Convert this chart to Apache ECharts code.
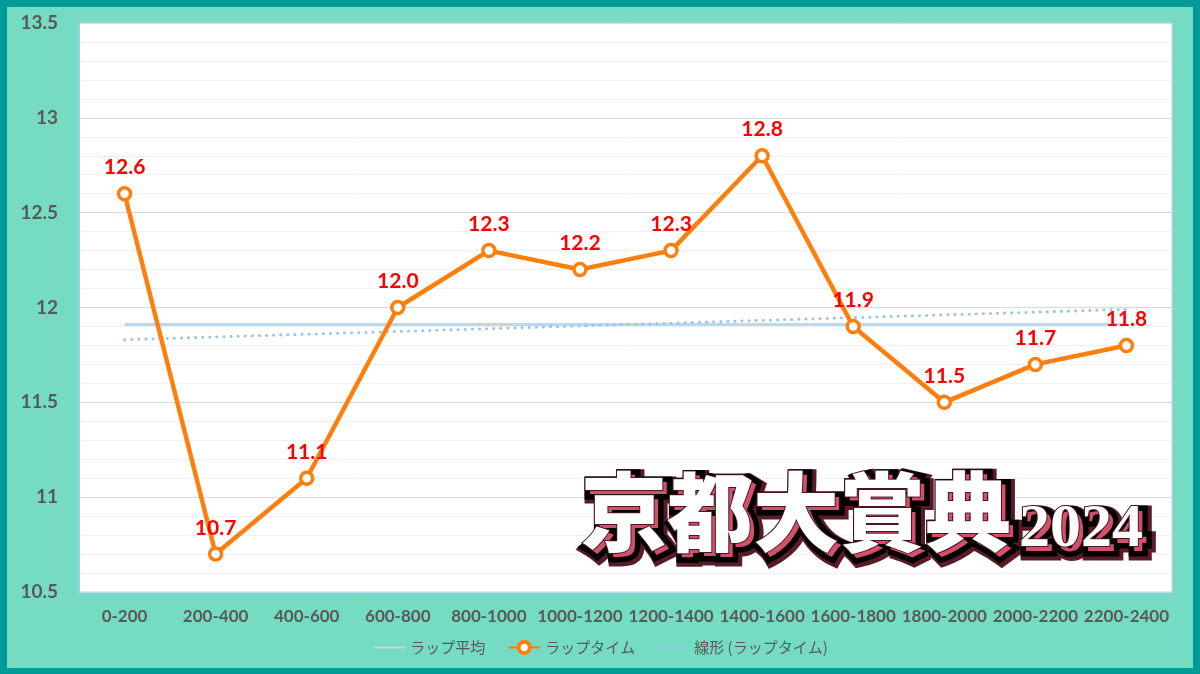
<!DOCTYPE html>
<html><head><meta charset="utf-8">
<script src="https://cdn.jsdelivr.net/npm/echarts@6/dist/echarts.min.js"></script>
<style>html,body{margin:0;padding:0;}#c{width:1200px;height:674px;}</style>
</head><body><div id="c"></div>
<script>
const categories = ['0-200','200-400','400-600','600-800','800-1000','1000-1200','1200-1400','1400-1600','1600-1800','1800-2000','2000-2200','2200-2400'];
const lapTimes = [12.6,10.7,11.1,12.0,12.3,12.2,12.3,12.8,11.9,11.5,11.7,11.8];
const lapAverage = 11.91;
const trendStart = 11.83;
const trendEnd = 11.99;
const yTicks = {min:10.5, max:13.5, interval:0.5};
const titleMain = '京都大賞典';
const titleYear = '2024';

const chart = echarts.init(document.getElementById('c'));
const jp = '"Noto Sans CJK JP", sans-serif';
const lat = 'Lato, "Open Sans", sans-serif';
const last = categories.length - 1;

function titleLayers(text, x, y, size, family, weight) {
  const base = {type:'text', left:x, top:y, z:100, silent:true};
  const font = weight+' '+size+'px '+family;
  return [
    Object.assign({}, base, {style:{text, font, fill:'#5a1a26', stroke:'#5a1a26', lineWidth:15, lineJoin:'round', shadowBlur:5, shadowColor:'rgba(0,0,0,0.4)', shadowOffsetX:2, shadowOffsetY:3}}),
    Object.assign({}, base, {style:{text, font, fill:'#d4506a', stroke:new echarts.graphic.LinearGradient(0,0,0,1,[{offset:0,color:'#c23a5a'},{offset:1,color:'#f28a80'}]), lineWidth:11, lineJoin:'round'}}),
    Object.assign({}, base, {style:{text, font, fill:'#ffffff', stroke:'#4a1620', lineWidth:2, lineJoin:'round'}})
  ];
}

let dotsPath = 'path://M0,0 M32,14';
[3,9.5,16,22.5,29].forEach(x => {
  dotsPath += ' M' + (x-1.6) + ',7 a1.6,1.6 0 1,0 3.2,0 a1.6,1.6 0 1,0 -3.2,0';
});

const option = {
  backgroundColor:'#009a96',
  graphic:[
    {type:'rect', left:7, top:7, z:-10, shape:{width:1186, height:661}, style:{fill:'#76dbc3'}, silent:true},
    ...titleLayers(titleMain, 580, 468, 86, jp, '900'),
    ...titleLayers(titleYear, 1018, 498, 62, '"Liberation Serif", serif', 'bold')
  ],
  grid:{left:79, right:28, top:23, bottom:82, show:true, backgroundColor:'#ffffff', borderColor:'#bdd7ee', borderWidth:1},
  legend:{
    bottom:14, left:'center', itemGap:22, itemWidth:32, itemHeight:14,
    textStyle:{color:'#595959', fontSize:15, fontFamily:jp},
    data:[
      {name:'ラップ平均', itemStyle:{opacity:0}},
      {name:'ラップタイム', itemStyle:{borderWidth:4}},
      {name:'線形 (ラップタイム)', icon:dotsPath, itemStyle:{color:'#9dc3e6', opacity:1, borderWidth:0}}
    ]
  },
  xAxis:{
    type:'category', data:categories, boundaryGap:true,
    axisLine:{show:true, lineStyle:{color:'#bdd7ee'}},
    axisTick:{show:false},
    axisLabel:{color:'#595959', fontSize:17, fontWeight:'bold', fontFamily:lat, margin:16, interval:0}
  },
  yAxis:{
    type:'value', min:yTicks.min, max:yTicks.max, interval:yTicks.interval,
    axisLine:{show:true, lineStyle:{color:'#9dc3e6'}},
    axisTick:{show:false},
    axisLabel:{color:'#595959', fontSize:19, fontWeight:'bold', fontFamily:lat, margin:21,
      formatter:v=>String(Math.round(v*10)/10)},
    splitLine:{lineStyle:{color:'#d9d9d9', width:1}},
    minorTick:{show:false, splitNumber:5},
    minorSplitLine:{show:true, lineStyle:{color:'#f0f0f0', width:1}}
  },
  series:[
    {name:'ラップ平均', type:'line', data:[[0,lapAverage],[last,lapAverage]], showSymbol:false, symbol:'none',
     lineStyle:{color:'#bdd7ee', width:3}, itemStyle:{color:'#bdd7ee'}, z:2, silent:true},
    {name:'ラップタイム', type:'line', data:lapTimes, symbol:'circle', symbolSize:12, showAllSymbol:true,
     lineStyle:{color:'#ff7f0e', width:4.5}, itemStyle:{color:'#ffffff', borderColor:'#ff7f0e', borderWidth:3.5},
     label:{show:true, position:'top', distance:8, color:'#ff0000', fontSize:21, fontWeight:'bold', fontFamily:lat,
       formatter:p=>p.value.toFixed(1)}, z:5},
    {name:'線形 (ラップタイム)', type:'line', data:[[0,trendStart],[last,trendEnd]], symbol:'none',
     lineStyle:{color:'#9dc3e6', width:3, type:[0.1,7], cap:'round'}, itemStyle:{color:'#9dc3e6'}, z:3, silent:true}
  ],
  animation:false
};
chart.setOption(option);
</script></body></html>
